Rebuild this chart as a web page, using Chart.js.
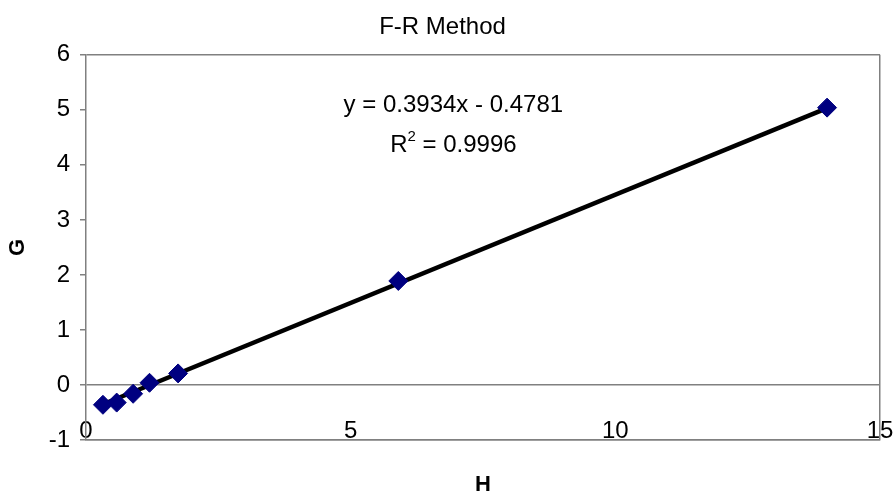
<!DOCTYPE html>
<html lang="en">
<head>
<meta charset="UTF-8">
<title>F-R Method</title>
<script src="https://cdn.jsdelivr.net/npm/chart.js"></script>
<style>
    body { margin: 0; background: #ffffff; }
    .chartBox { width: 895px; height: 498px; }
</style>
</head>
<body>
<div class="chartBox"><canvas id="frChart"></canvas></div>

<script>
    // valores
    var valoresH = [0.32, 0.58, 0.89, 1.2, 1.74, 5.9, 14.0];
    var valoresG = [-0.36, -0.32, -0.16, 0.04, 0.21, 1.89, 5.04];
    // linea de tendencia (extremos)
    var tendenciaH = [0.32, 14.0];
    var tendenciaG = [-0.35, 5.03];
    var ticksX = [0, 5, 10, 15];
    var ticksY = [-1, 0, 1, 2, 3, 4, 5, 6];
    var ecuacion = "y = 0.3934x - 0.4781";
    var valorR2 = " = 0.9996";

    var gris = '#808080';
    var fuente = 'Arial, "Liberation Sans", sans-serif';

    function aPuntos(xs, ys) {
        return xs.map(function (x, i) { return {x: x, y: ys[i]}; });
    }

    // dibuja la ecuacion y el R2 usando las escalas
    var textoEcuacion = {
        id: 'textoEcuacion',
        afterDraw: function (chart) {
            var ctx = chart.ctx;
            var sx = chart.scales.x, sy = chart.scales.y;
            var cx = sx.getPixelForValue(6.94);
            ctx.save();
            ctx.fillStyle = '#000';
            ctx.textBaseline = 'middle';
            ctx.textAlign = 'center';
            ctx.font = '24px ' + fuente;
            ctx.fillText(ecuacion, cx, sy.getPixelForValue(5.09));
            // R^2 con superindice
            var y2 = sy.getPixelForValue(4.36);
            var wR = ctx.measureText('R').width;
            var wResto = ctx.measureText(valorR2).width;
            ctx.font = '15px ' + fuente;
            var wSup = ctx.measureText('2').width;
            var x0 = cx - (wR + wSup + wResto) / 2;
            ctx.textAlign = 'left';
            ctx.font = '24px ' + fuente;
            ctx.fillText('R', x0, y2);
            ctx.fillText(valorR2, x0 + wR + wSup, y2);
            ctx.font = '15px ' + fuente;
            ctx.fillText('2', x0 + wR, y2 - 8);
            ctx.restore();
        }
    };

    new Chart(document.getElementById('frChart'), {
        type: 'scatter',
        data: {
            datasets: [{
                label: 'G',
                data: aPuntos(valoresH, valoresG),
                pointStyle: 'rectRot',
                pointRadius: 9.5,
                pointHoverRadius: 9.5,
                pointBackgroundColor: '#000080',
                pointBorderColor: '#000080',
                pointBorderWidth: 1,
                showLine: false,
                order: 1
            }, {
                label: 'tendencia',
                data: aPuntos(tendenciaH, tendenciaG),
                showLine: true,
                borderColor: '#000000',
                borderWidth: 4.5,
                pointRadius: 0,
                pointHoverRadius: 0,
                order: 2
            }]
        },
        options: {
            responsive: true,
            maintainAspectRatio: false,
            animation: false,
            layout: { padding: { left: 5, right: 15, top: 0, bottom: 0 } },
            plugins: {
                legend: { display: false },
                tooltip: { enabled: false },
                title: {
                    display: true,
                    text: 'F-R Method',
                    color: '#000',
                    font: { family: fuente, size: 24, weight: 'normal' },
                    padding: { top: 13, bottom: 13 }
                }
            },
            scales: {
                x: {
                    type: 'linear',
                    min: 0, max: 15,
                    afterBuildTicks: function (s) { s.ticks = ticksX.map(function (v) { return {value: v}; }); },
                    afterFit: function (s) {
                        s.height = 58;
                        s.paddingLeft = 0;
                        s.paddingRight = 0;
                    },
                    border: { display: true, color: gris, width: 1.5 },
                    grid: {
                        drawTicks: false,
                        lineWidth: 1.5,
                        color: function (c) { return (c.tick && c.tick.value === 15) ? gris : 'rgba(0,0,0,0)'; }
                    },
                    ticks: { color: '#000', mirror: true, padding: -6, font: { family: fuente, size: 24 } },
                    title: {
                        display: true, text: 'H', color: '#000',
                        font: { family: fuente, size: 22, weight: 'bold' },
                        padding: 0
                    }
                },
                y: {
                    type: 'linear',
                    min: -1, max: 6,
                    afterBuildTicks: function (s) { s.ticks = ticksY.map(function (v) { return {value: v}; }); },
                    afterFit: function (s) { s.width = 81; },
                    border: { display: true, color: gris, width: 1.5 },
                    grid: {
                        drawTicks: true,
                        tickLength: 6,
                        tickColor: gris,
                        lineWidth: 1.5,
                        color: function (c) {
                            var v = c.tick ? c.tick.value : null;
                            return (v === 0 || v === 6 || v === -1) ? gris : 'rgba(0,0,0,0)';
                        }
                    },
                    ticks: { color: '#000', padding: 10, font: { family: fuente, size: 24 } },
                    title: {
                        display: true, text: 'G', color: '#000',
                        font: { family: fuente, size: 22, weight: 'bold' },
                        padding: 0
                    }
                }
            }
        },
        plugins: [textoEcuacion]
    });
</script>
</body>
</html>
